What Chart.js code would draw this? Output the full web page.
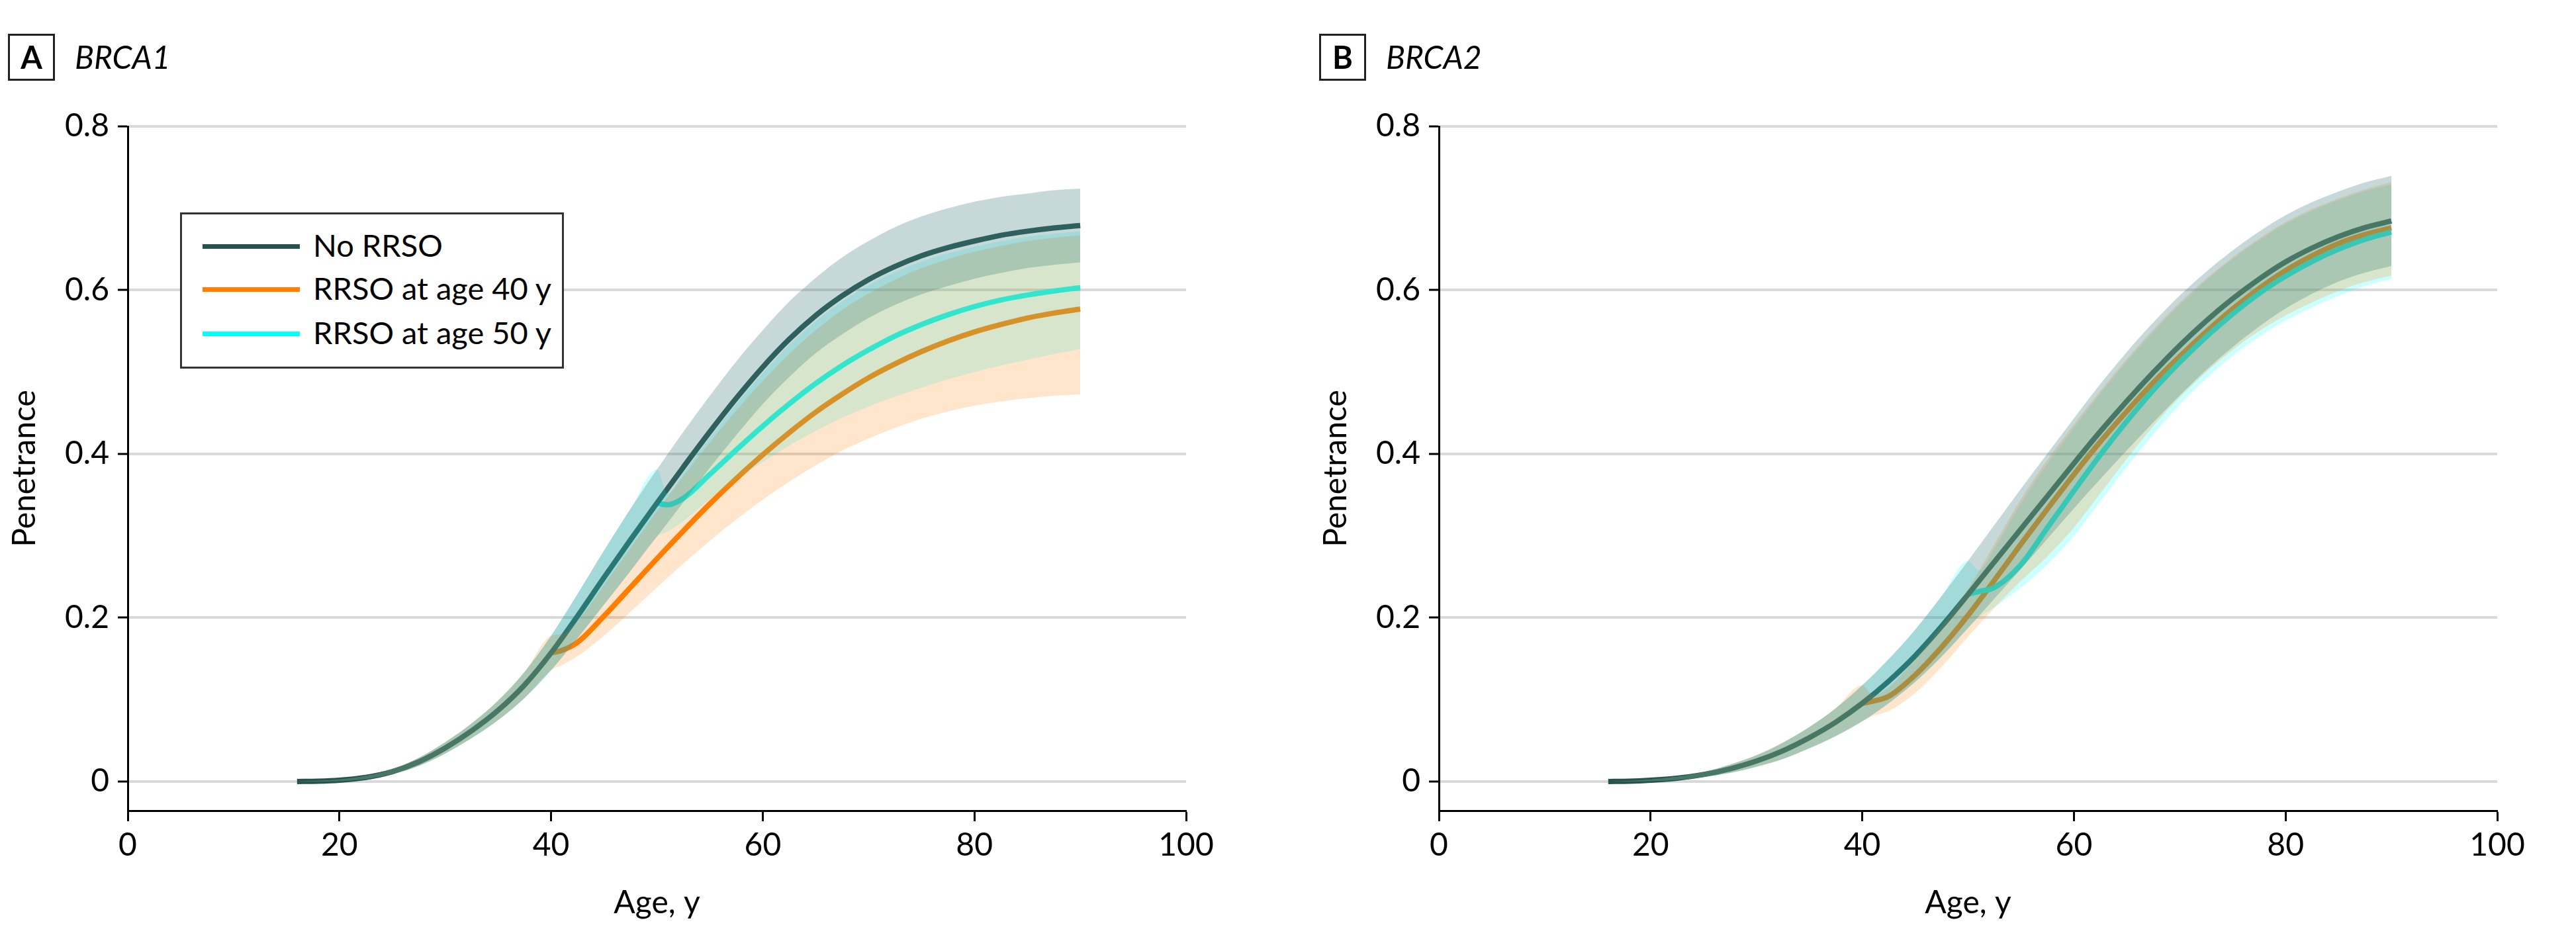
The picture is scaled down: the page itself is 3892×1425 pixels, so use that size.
<!DOCTYPE html>
<html>
<head>
<meta charset="utf-8">
<script src="https://cdn.jsdelivr.net/npm/chart.js@4.4.1/dist/chart.umd.min.js"></script>
<style>
  html, body { margin: 0; padding: 0; background: #fff; }
  body { width: 3892px; height: 1425px; position: relative; overflow: hidden; font-family: Lato, sans-serif; color: #000; }
  .panel { position: absolute; top: 0; width: 1911px; height: 1425px; }
  .panel canvas { position: absolute; left: 0; top: 0; }
  .tag { position: absolute; left: 12px; top: 51px; width: 65px; height: 65px; border: 3px solid #222;
         font-weight: 700; font-size: 47px; line-height: 65px; text-align: center; }
  .gene { position: absolute; left: 113px; top: 62px; font-style: italic; font-size: 48px; line-height: 47px; }
  .legend { position: absolute; left: 272px; top: 321px; width: 574px; height: 230px; border: 3px solid #333; background: #fff; }
  .legend .swatch { position: absolute; left: 31px; width: 147px; height: 7px; }
  .legend .name { position: absolute; left: 198px; font-size: 47px; line-height: 47px; white-space: nowrap; }
</style>
</head>
<body>
<div class="panel" style="left:0">
  <canvas id="chartA" width="1911" height="1425"></canvas>
  <div class="tag">A</div>
  <div class="gene">BRCA1</div>
  <div class="legend" id="legendA"></div>
</div>
<div class="panel" style="left:1981px">
  <canvas id="chartB" width="1911" height="1425"></canvas>
  <div class="tag">B</div>
  <div class="gene">BRCA2</div>
</div>
<script>
// ages (years) at which the curves were read
const ageGrid = [16, 18, 20, 22.5, 25, 27.5, 30, 32.5, 35, 37.5, 40, 42.5, 45, 47.5, 50, 52.5, 55, 57.5, 60, 62.5, 65, 67.5, 70, 72.5, 75, 77.5, 80, 82.5, 85, 87.5, 90];
const ages40 = [40, 41, 42.5, 45, 47.5, 50, 52.5, 55, 57.5, 60, 62.5, 65, 67.5, 70, 72.5, 75, 77.5, 80, 82.5, 85, 87.5, 90];
const ages50 = [50, 51, 52.5, 55, 57.5, 60, 62.5, 65, 67.5, 70, 72.5, 75, 77.5, 80, 82.5, 85, 87.5, 90];

const xTicks = [0, 20, 40, 60, 80, 100];
const yTicks = [0, 0.2, 0.4, 0.6, 0.8];
const seriesNames = ['No RRSO', 'RRSO at age 40 y', 'RRSO at age 50 y'];

// BRCA1
const brca1NoRrso = [0, 0.0004, 0.0016, 0.005, 0.012, 0.024, 0.041, 0.062, 0.087, 0.118, 0.157, 0.202, 0.249, 0.295, 0.34, 0.384, 0.427, 0.468, 0.506, 0.54, 0.569, 0.593, 0.613, 0.629, 0.642, 0.652, 0.66, 0.667, 0.672, 0.676, 0.679];
const brca1NoRrsoLow = [0, 0, 0.0006, 0.003, 0.009, 0.019, 0.034, 0.053, 0.075, 0.102, 0.136, 0.175, 0.216, 0.257, 0.299, 0.341, 0.383, 0.423, 0.461, 0.494, 0.523, 0.546, 0.566, 0.582, 0.595, 0.605, 0.614, 0.621, 0.627, 0.631, 0.634];
const brca1NoRrsoHigh = [0, 0.0009, 0.0026, 0.007, 0.015, 0.029, 0.048, 0.071, 0.099, 0.134, 0.178, 0.229, 0.282, 0.333, 0.381, 0.427, 0.471, 0.513, 0.551, 0.586, 0.615, 0.64, 0.66, 0.677, 0.69, 0.7, 0.708, 0.714, 0.718, 0.722, 0.724];
const brca1Rrso40 = [0.157, 0.16, 0.17, 0.202, 0.237, 0.272, 0.306, 0.339, 0.37, 0.399, 0.426, 0.451, 0.473, 0.493, 0.51, 0.525, 0.538, 0.549, 0.558, 0.566, 0.572, 0.577];
const brca1Rrso40Low = [0.136, 0.142, 0.153, 0.178, 0.207, 0.237, 0.266, 0.294, 0.32, 0.344, 0.366, 0.386, 0.404, 0.419, 0.432, 0.443, 0.452, 0.459, 0.464, 0.468, 0.471, 0.473];
const brca1Rrso40High = [0.178, 0.18, 0.196, 0.24, 0.285, 0.33, 0.373, 0.414, 0.453, 0.489, 0.522, 0.551, 0.576, 0.596, 0.613, 0.627, 0.638, 0.647, 0.654, 0.66, 0.664, 0.667];
const brca1Rrso50 = [0.34, 0.338, 0.346, 0.375, 0.405, 0.434, 0.461, 0.486, 0.508, 0.527, 0.544, 0.558, 0.57, 0.58, 0.588, 0.594, 0.599, 0.603];
const brca1Rrso50Low = [0.299, 0.305, 0.318, 0.345, 0.369, 0.39, 0.41, 0.428, 0.444, 0.458, 0.47, 0.481, 0.491, 0.5, 0.508, 0.515, 0.522, 0.528];
const brca1Rrso50High = [0.381, 0.352, 0.377, 0.42, 0.461, 0.499, 0.533, 0.562, 0.586, 0.606, 0.622, 0.635, 0.645, 0.653, 0.66, 0.665, 0.669, 0.672];

// BRCA2
const brca2NoRrso = [0, 0.0003, 0.0015, 0.004, 0.0085, 0.0155, 0.025, 0.0375, 0.0535, 0.0725, 0.0955, 0.1225, 0.1535, 0.1895, 0.2285, 0.2685, 0.3085, 0.3485, 0.3885, 0.4275, 0.4645, 0.4995, 0.5325, 0.5625, 0.5895, 0.6135, 0.6345, 0.6515, 0.6655, 0.6765, 0.6845];
const brca2NoRrsoLow = [0, 0, 0.0005, 0.002, 0.0055, 0.0105, 0.018, 0.0275, 0.0405, 0.0555, 0.0735, 0.0955, 0.1215, 0.1525, 0.1875, 0.2235, 0.2595, 0.2965, 0.3335, 0.3695, 0.4045, 0.4385, 0.4715, 0.5025, 0.5305, 0.5555, 0.5775, 0.5955, 0.6105, 0.6215, 0.6295];
const brca2NoRrsoHigh = [0, 0.0008, 0.0025, 0.006, 0.0115, 0.0205, 0.032, 0.0475, 0.0665, 0.0895, 0.1175, 0.1495, 0.1855, 0.2265, 0.2695, 0.3135, 0.3575, 0.4005, 0.4435, 0.4855, 0.5245, 0.5605, 0.5935, 0.6225, 0.6485, 0.6715, 0.6915, 0.7075, 0.7205, 0.7315, 0.7395];
const brca2Rrso40 = [0.0955, 0.098, 0.104, 0.13, 0.164, 0.203, 0.246, 0.29, 0.333, 0.375, 0.415, 0.452, 0.487, 0.519, 0.549, 0.577, 0.602, 0.624, 0.642, 0.657, 0.668, 0.676];
const brca2Rrso40Low = [0.0735, 0.08, 0.086, 0.108, 0.14, 0.177, 0.212, 0.245, 0.275, 0.31, 0.352, 0.394, 0.434, 0.469, 0.5, 0.527, 0.55, 0.569, 0.585, 0.599, 0.61, 0.618];
const brca2Rrso40High = [0.1175, 0.106, 0.115, 0.15, 0.19, 0.235, 0.29, 0.345, 0.393, 0.436, 0.477, 0.516, 0.552, 0.585, 0.614, 0.64, 0.663, 0.683, 0.699, 0.712, 0.723, 0.732];
const brca2Rrso50 = [0.2285, 0.232, 0.237, 0.265, 0.31, 0.355, 0.399, 0.44, 0.478, 0.512, 0.543, 0.571, 0.596, 0.617, 0.635, 0.65, 0.662, 0.671];
const brca2Rrso50Low = [0.1875, 0.2, 0.213, 0.237, 0.265, 0.3, 0.342, 0.384, 0.424, 0.46, 0.492, 0.52, 0.543, 0.563, 0.579, 0.593, 0.605, 0.614];
const brca2Rrso50High = [0.2695, 0.258, 0.285, 0.34, 0.388, 0.432, 0.474, 0.513, 0.549, 0.582, 0.612, 0.638, 0.661, 0.681, 0.697, 0.71, 0.721, 0.729];

const lineColors = ['#26524f', '#ff7f00', '#00ffff'];
const bandColors = ['rgba(65,128,125,0.3)', 'rgba(255,127,0,0.2)', 'rgba(0,255,255,0.2)'];
const FONT = 'Lato';

const pts = (xs, ys) => xs.map((x, i) => ({ x, y: ys[i] }));
// before surgery age the RRSO curves (and their bands) are the No RRSO ones
const before = (age, ys) => pts(ageGrid.filter(a => a < age), ys);

// lines sit under the translucent bands, dark line on top of the other two
function line(data, color, order) {
  return { data, borderColor: color, borderWidth: 8, borderCapStyle: 'butt',
           pointRadius: 0, fill: false, order, cubicInterpolationMode: 'monotone' };
}
function band(lo, hi, color) {
  return [
    { data: lo, borderColor: 'rgba(0,0,0,0)', borderWidth: 0, pointRadius: 0, fill: false, order: 0, cubicInterpolationMode: 'monotone' },
    { data: hi, borderColor: 'rgba(0,0,0,0)', borderWidth: 0, pointRadius: 0, fill: '-1', backgroundColor: color, order: 0, cubicInterpolationMode: 'monotone' }
  ];
}

function makeChart(id, s) {
  new Chart(document.getElementById(id), {
    type: 'line',
    data: {
      datasets: [
        line(pts(ageGrid, s.no), lineColors[0], 1),
        line(pts(ages50, s.r50), lineColors[2], 2),
        line(pts(ages40, s.r40), lineColors[1], 3),
        ...band(pts(ageGrid, s.noLo), pts(ageGrid, s.noHi), bandColors[0]),
        ...band(before(40, s.noLo).concat(pts(ages40, s.r40Lo)),
                before(40, s.noHi).concat(pts(ages40, s.r40Hi)), bandColors[1]),
        ...band(before(50, s.noLo).concat(pts(ages50, s.r50Lo)),
                before(50, s.noHi).concat(pts(ages50, s.r50Hi)), bandColors[2])
      ]
    },
    options: {
      responsive: false,
      animation: false,
      events: [],
      layout: { padding: { left: 0, right: 119, top: 191, bottom: 0 } },
      plugins: { legend: { display: false }, tooltip: { enabled: false } },
      scales: {
        x: {
          type: 'linear', min: 0, max: 100,
          afterBuildTicks: sc => { sc.ticks = xTicks.map(v => ({ value: v })); },
          afterFit: sc => { sc.height = 200; },
          grid: { drawOnChartArea: false, tickLength: 16, tickColor: '#000', tickWidth: 3 },
          border: { color: '#000', width: 3 },
          ticks: { color: '#000', font: { family: FONT, size: 48 }, padding: 8, maxRotation: 0, autoSkip: false },
          title: { display: true, text: 'Age, y', color: '#000', font: { family: FONT, size: 48 }, padding: { top: 0, bottom: 32 } }
        },
        y: {
          type: 'linear', min: -0.0356, max: 0.8,
          afterBuildTicks: sc => { sc.ticks = yTicks.map(v => ({ value: v })); },
          afterFit: sc => { sc.width = 193; },
          grid: { color: '#d9d9d9', lineWidth: 4, tickLength: 15, tickColor: '#000', tickWidth: 3 },
          border: { color: '#000', width: 3 },
          ticks: { color: '#000', font: { family: FONT, size: 48 }, padding: 13,
                   callback: v => v === 0 ? '0' : v.toFixed(1) },
          title: { display: true, text: 'Penetrance', color: '#000', font: { family: FONT, size: 48 }, padding: { top: 9, bottom: 0 } }
        }
      }
    }
  });
}

makeChart('chartA', {
  no: brca1NoRrso, noLo: brca1NoRrsoLow, noHi: brca1NoRrsoHigh,
  r40: brca1Rrso40, r40Lo: brca1Rrso40Low, r40Hi: brca1Rrso40High,
  r50: brca1Rrso50, r50Lo: brca1Rrso50Low, r50Hi: brca1Rrso50High
});
makeChart('chartB', {
  no: brca2NoRrso, noLo: brca2NoRrsoLow, noHi: brca2NoRrsoHigh,
  r40: brca2Rrso40, r40Lo: brca2Rrso40Low, r40Hi: brca2Rrso40High,
  r50: brca2Rrso50, r50Lo: brca2Rrso50Low, r50Hi: brca2Rrso50High
});

// legend box inside panel A
const legend = document.getElementById('legendA');
const rowCenters = [48, 113, 180];
legend.innerHTML = seriesNames.map((name, i) => `
  <div class="swatch" style="top:${rowCenters[i] - 3.5}px; background:${lineColors[i]}"></div>
  <div class="name" style="top:${rowCenters[i] - 25}px">${name}</div>`).join('');
</script>
</body>
</html>
